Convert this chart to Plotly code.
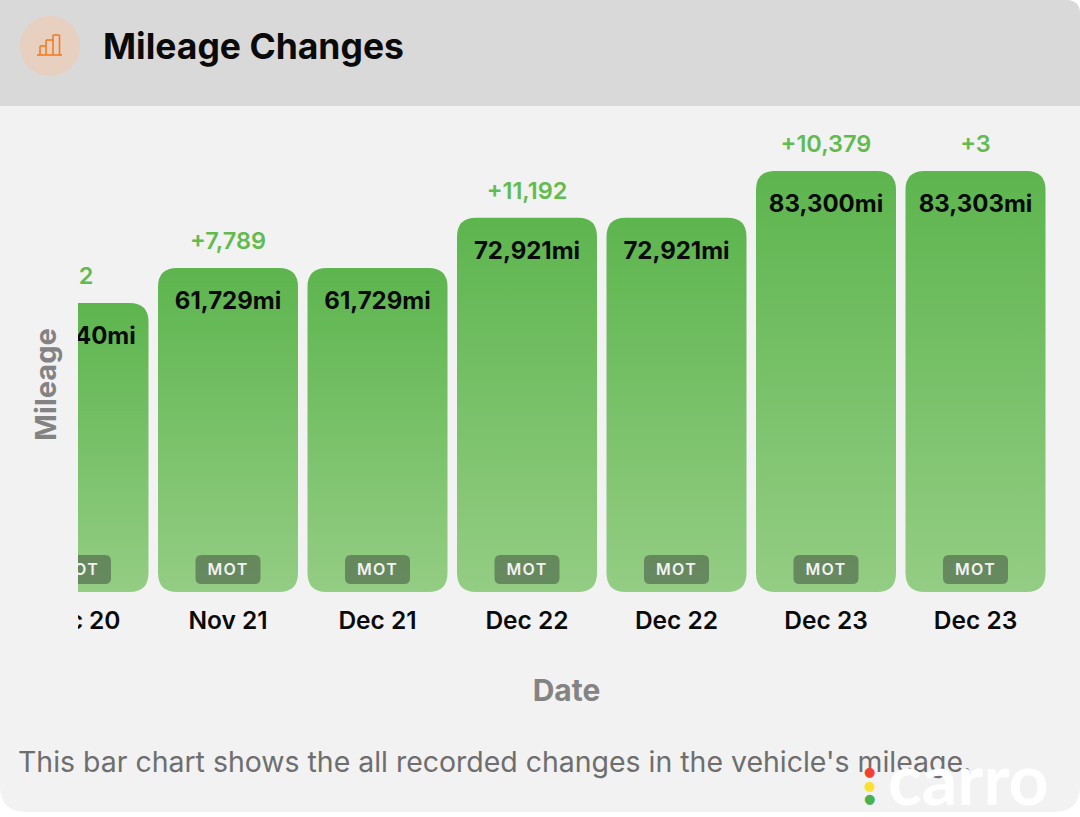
import plotly.graph_objects as go

dates = ["Dec 20", "Nov 21", "Dec 21", "Dec 22", "Dec 22", "Dec 23", "Dec 23"]
mileage = [53940, 61729, 61729, 72921, 72921, 83300, 83303]
changes = ["+2", "+7,789", "", "+11,192", "", "+10,379", "+3"]
events = ["MOT", "MOT", "MOT", "MOT", "MOT", "MOT", "MOT"]

W, H = 1080, 817
FONT = "Inter"
def px(x): return x / W
def py(y): return 1 - y / H

PLOT_L, PLOT_R, PLOT_T, PLOT_B = 78, 1055, 120, 592
BAR_PITCH = 149.5
MI_PER_PX = 1 / 0.0045
AXIS_BASE = -10270
xs = list(range(len(dates)))
x_range = [-0.5 / BAR_PITCH, (PLOT_R - PLOT_L - 0.5) / BAR_PITCH]
y_range = [AXIS_BASE, AXIS_BASE + (PLOT_B - PLOT_T) * MI_PER_PX]

fig = go.Figure()
fig.add_bar(x=xs, y=[m - AXIS_BASE for m in mileage], base=AXIS_BASE, width=140 / BAR_PITCH,
            marker=dict(color="#78c068", line=dict(width=0)), hoverinfo="skip")
fig.add_bar(x=xs, y=[29 * MI_PER_PX] * len(xs), base=AXIS_BASE + 8 * MI_PER_PX, width=65 / BAR_PITCH,
            marker=dict(color="rgba(60,70,60,0.5)", line=dict(width=0)), hoverinfo="skip")
fig.add_scatter(x=xs, y=[m + 25 * MI_PER_PX for m in mileage], mode="text", text=changes,
                textposition="middle center",
                textfont=dict(family=FONT, size=23.5, color="#62bb4e", weight=600), hoverinfo="skip")
fig.add_scatter(x=xs, y=[m - 35 * MI_PER_PX for m in mileage], mode="text",
                text=[f"{m:,}mi" for m in mileage], textposition="middle center",
                textfont=dict(family=FONT, size=24, color="#0a0a0a", weight=700), hoverinfo="skip")
fig.add_scatter(x=xs, y=[AXIS_BASE + 21.5 * MI_PER_PX] * len(xs), mode="text",
                text=events, textposition="middle center",
                textfont=dict(family=FONT, size=16, color="#f2f2f2", weight=600), hoverinfo="skip")

def rpath(x0, y0, x1, y1, tl, tr, br, bl):
    return (f"M {px(x0+tl)} {py(y0)} L {px(x1-tr)} {py(y0)} Q {px(x1)} {py(y0)} {px(x1)} {py(y0+tr)} "
            f"L {px(x1)} {py(y1-br)} Q {px(x1)} {py(y1)} {px(x1-br)} {py(y1)} "
            f"L {px(x0+bl)} {py(y1)} Q {px(x0)} {py(y1)} {px(x0)} {py(y1-bl)} "
            f"L {px(x0)} {py(y0+tl)} Q {px(x0)} {py(y0)} {px(x0+tl)} {py(y0)} Z")

def rect(x0, y0, x1, y1, color, layer="below"):
    return dict(type="rect", xref="paper", yref="paper", x0=px(x0), x1=px(x1), y0=py(y1), y1=py(y0),
                fillcolor=color, line=dict(width=0), layer=layer)

def line(x0, y0, x1, y1):
    return dict(type="line", xref="paper", yref="paper", x0=px(x0), x1=px(x1), y0=py(y0), y1=py(y1),
                line=dict(color="#f47b20", width=1.6), layer="above")

shapes = [
    dict(type="path", xref="paper", yref="paper", path=rpath(0, 0, 1080, 812, 0, 14, 26, 26),
         fillcolor="#f2f2f2", line=dict(width=0), layer="below"),
    dict(type="path", xref="paper", yref="paper", path=rpath(0, 0, 1080, 106, 0, 14, 0, 0),
         fillcolor="#d9d9d9", line=dict(width=0), layer="below"),
    # clips the scrolled-off part of the chart at the plot's left edge
    rect(0, 110, PLOT_L, 650, "#f2f2f2", "above"),
    dict(type="circle", xref="paper", yref="paper", x0=px(20), x1=px(80), y0=py(76), y1=py(16),
         fillcolor="#e8d0c0", line=dict(width=0), layer="above"),
    line(37, 55, 62, 55),
    line(40, 55, 40, 46), line(40, 46, 46, 46), line(46, 55, 46, 40), line(46, 40, 53, 40),
    line(53, 55, 53, 35), line(53, 35, 59.5, 35), line(59.5, 35, 59.5, 55),
]

def note(x, y, text, size, color, weight=400, anchor="left", angle=0, family=FONT):
    return dict(xref="paper", yref="paper", x=px(x), y=py(y), text=text, showarrow=False,
                xanchor=anchor, yanchor="middle", textangle=angle,
                font=dict(family=family, size=size, color=color, weight=weight))

annotations = [
    note(101, 47, "Mileage Changes", 35.5, "#0a0a0a", 700),
    note(45, 385, "Mileage", 29, "#838383", 700, "center", -90),
    note(16, 761, "This bar chart shows the all recorded changes in the vehicle's mileage.", 28.45, "#6e6e6e"),
    note(968, 778, "carro", 70, "#ffffff", 700, "center", family="Lato"),
    note(869, 771, "●", 13, "#f4412f", anchor="center", family="DejaVu Sans"),
    note(869, 785, "●", 13, "#fce22e", anchor="center", family="DejaVu Sans"),
    note(869, 798, "●", 13, "#4caf50", anchor="center", family="DejaVu Sans"),
]

fig.update_layout(
    width=W, height=H, margin=dict(l=0, r=0, t=0, b=0), paper_bgcolor="#ffffff", plot_bgcolor="rgba(0,0,0,0)",
    barmode="overlay", showlegend=False, shapes=shapes, annotations=annotations,
    xaxis=dict(domain=[px(PLOT_L), px(PLOT_R)], range=x_range, tickmode="array", tickvals=xs, ticktext=dates,
               showgrid=False, zeroline=False, showline=False, ticks="", ticklabelstandoff=11,
               tickfont=dict(family=FONT, size=24.5, color="#0a0a0a", weight=600),
               automargin=False,
               title=dict(text="Date", standoff=46, font=dict(family=FONT, size=30, color="#838383", weight=700))),
    yaxis=dict(domain=[py(PLOT_B), py(PLOT_T)], range=y_range, showgrid=False, zeroline=False,
               showline=False, showticklabels=False, ticks="", automargin=False),
)

post = """
document.body.style.margin = '0';
var gd = document.getElementById('{plot_id}');
function styleBars() {
  var svg = gd.querySelector('svg.main-svg');
  var defs = svg.querySelector('defs');
  if (!document.getElementById('barGrad')) {
    var NS = 'http://www.w3.org/2000/svg';
    var g = document.createElementNS(NS, 'linearGradient');
    g.setAttribute('id', 'barGrad'); g.setAttribute('x1', '0'); g.setAttribute('y1', '0');
    g.setAttribute('x2', '0'); g.setAttribute('y2', '1');
    [['0', '#5db54e'], ['1', '#94cd84']].forEach(function (s) {
      var st = document.createElementNS(NS, 'stop');
      st.setAttribute('offset', s[0]); st.setAttribute('stop-color', s[1]); g.appendChild(st);
    });
    defs.appendChild(g);
  }
  gd.querySelectorAll('.barlayer .trace.bars').forEach(function (tr, ti) {
    var r = ti === 0 ? 19 : 6;
    tr.querySelectorAll('.point path').forEach(function (p) {
      var b = p.getBBox();
      var x0 = b.x, y0 = b.y, x1 = b.x + b.width, y1 = b.y + b.height;
      p.setAttribute('d', 'M' + (x0 + r) + ',' + y0 + 'H' + (x1 - r) + 'Q' + x1 + ',' + y0 + ' ' + x1 + ',' + (y0 + r) +
        'V' + (y1 - r) + 'Q' + x1 + ',' + y1 + ' ' + (x1 - r) + ',' + y1 + 'H' + (x0 + r) +
        'Q' + x0 + ',' + y1 + ' ' + x0 + ',' + (y1 - r) + 'V' + (y0 + r) + 'Q' + x0 + ',' + y0 + ' ' + (x0 + r) + ',' + y0 + 'Z');
      if (ti === 0) p.style.fill = 'url(#barGrad)';
    });
  });
  var layers = gd.querySelectorAll('.scatterlayer .trace');
  if (layers.length) {
    layers[layers.length - 1].querySelectorAll('text').forEach(function (t) {
      t.style.letterSpacing = '1.3px';
    });
  }
}
styleBars();
"""
fig.write_html("out.html", post_script=post, config=dict(displayModeBar=False, responsive=False))
